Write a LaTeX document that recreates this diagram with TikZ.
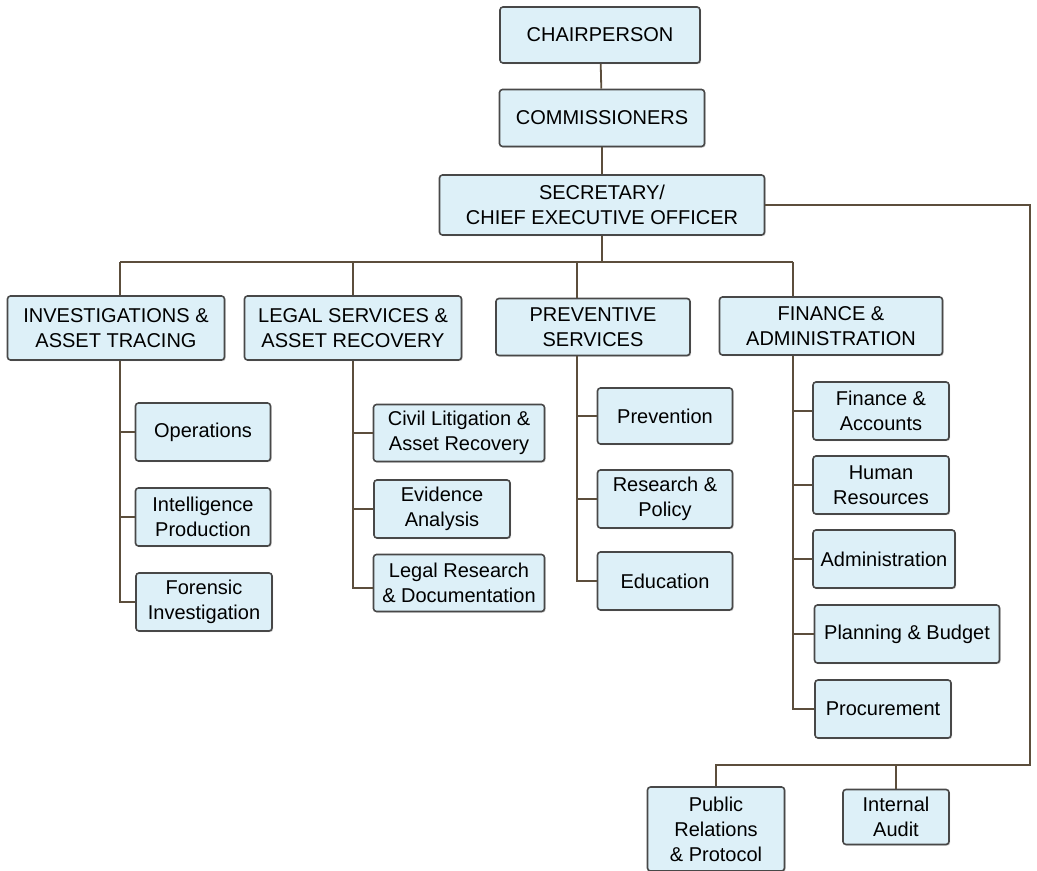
\documentclass[tikz,border=0pt]{standalone}
\usepackage{fontspec}
\setmainfont{Liberation Sans}
\usepackage{tikz}
\usetikzlibrary{positioning,shadows}
\definecolor{ocfill}{RGB}{221,240,248}
\definecolor{ocdraw}{RGB}{72,72,72}
\definecolor{ocline}{RGB}{92,78,60}
\tikzstyle{unit} = [rectangle, rounded corners=1.5pt, align=center, draw=ocdraw, fill=ocfill, line width=0.8pt, inner sep=1pt, font=\fontsize{10}{12.5}\selectfont, drop shadow={shadow xshift=0.6pt, shadow yshift=-0.6pt, opacity=0.35}]
\tikzstyle{link} = [line width=0.9pt, color=ocline]

\begin{document}
\begin{tikzpicture}[x=0.5pt, y=-0.5pt]
\useasboundingbox (0,0) rectangle (1037,871);
% top of the chart
\node[unit, minimum width=100pt, minimum height=28pt] (chair) at (600,35) {CHAIRPERSON};
\node[unit, minimum width=102.5pt, minimum height=28.5pt] (comm) at (602,118) {COMMISSIONERS};
\node[unit, minimum width=162.5pt, minimum height=30pt] (ceo) at (602,205) {SECRETARY/\\CHIEF EXECUTIVE OFFICER};
% directorates
\node[unit, minimum width=108.5pt, minimum height=32pt] (inv) at (116,328) {INVESTIGATIONS \&\\ASSET TRACING};
\node[unit, minimum width=108.5pt, minimum height=32pt] (legal) at (353,328) {LEGAL SERVICES \&\\ASSET RECOVERY};
\node[unit, minimum width=97pt, minimum height=28.5pt] (prev) at (593,327) {PREVENTIVE\\SERVICES};
\node[unit, minimum width=111.5pt, minimum height=29pt] (fin) at (831,326) {FINANCE \&\\ADMINISTRATION};
% departments
\node[unit, minimum width=67.5pt, minimum height=29pt] (ops) at (203,432) {Operations};
\node[unit, minimum width=67.5pt, minimum height=29pt] (intel) at (203,517) {Intelligence\\Production};
\node[unit, minimum width=68pt, minimum height=29pt] (foren) at (204,602) {Forensic\\Investigation};
\node[unit, minimum width=85.5pt, minimum height=28.5pt] (civil) at (459,433) {Civil Litigation \&\\Asset Recovery};
\node[unit, minimum width=68pt, minimum height=29pt] (evid) at (442,509) {Evidence\\Analysis};
\node[unit, minimum width=85.5pt, minimum height=28.5pt] (lres) at (459,583) {Legal Research\\\& Documentation};
\node[unit, minimum width=67.5pt, minimum height=28pt] (prevn) at (665,416) {Prevention};
\node[unit, minimum width=67.5pt, minimum height=29pt] (rpol) at (665,499) {Research \&\\Policy};
\node[unit, minimum width=67.5pt, minimum height=29pt] (educ) at (665,581) {Education};
\node[unit, minimum width=68pt, minimum height=29pt] (finacc) at (881,411) {Finance \&\\Accounts};
\node[unit, minimum width=68pt, minimum height=29pt] (hr) at (881,485) {Human\\Resources};
\node[unit, minimum width=71pt, minimum height=29pt] (admin) at (884,559) {Administration};
\node[unit, minimum width=92.5pt, minimum height=29pt] (plan) at (907,634) {Planning \& Budget};
\node[unit, minimum width=68pt, minimum height=29pt] (proc) at (883,709) {Procurement};
\node[unit, minimum width=68.5pt, minimum height=42pt] (pr) at (716,829) {Public\\Relations\\\& Protocol};
\node[unit, minimum width=53pt, minimum height=27.5pt] (audit) at (896,817) {Internal\\Audit};
% spines and buses
\coordinate (busl) at (120,262);
\coordinate (busr) at (793,262);
\coordinate (invspine) at (120,0);
\coordinate (legspine) at (353,0);
\coordinate (prevspine) at (577,0);
\coordinate (finspine) at (793,0);
\coordinate (rbus) at (1030,765);
\draw[link] (chair) -- (comm);
\draw[link] (comm) -- (ceo);
\draw[link] (ceo) -- (ceo |- busl);
\draw[link] (busl) -- (busr);
\draw[link] (busl) -- (invspine |- inv.north);
\draw[link] (legspine |- busl) -- (legspine |- legal.north);
\draw[link] (prevspine |- busl) -- (prevspine |- prev.north);
\draw[link] (busr) -- (finspine |- fin.north);
\draw[link] (invspine |- inv.south) |- (foren.west);
\draw[link] (legspine |- legal.south) |- ([yshift=-2.5pt]lres.west);
\draw[link] (prevspine |- prev.south) |- (educ.west);
\draw[link] (finspine |- fin.south) |- (proc.west);
\foreach \c in {ops,intel} \draw[link] (invspine |- \c.west) -- (\c.west);
\foreach \c in {civil,evid} \draw[link] (legspine |- \c.west) -- (\c.west);
\foreach \c in {prevn,rpol} \draw[link] (prevspine |- \c.west) -- (\c.west);
\foreach \c in {finacc,hr,admin,plan} \draw[link] (finspine |- \c.west) -- (\c.west);
\draw[link] (ceo.east) -| (rbus) -| (pr.north);
\draw[link] (audit.north) -- (audit.north |- rbus);
\end{tikzpicture}
\end{document}
